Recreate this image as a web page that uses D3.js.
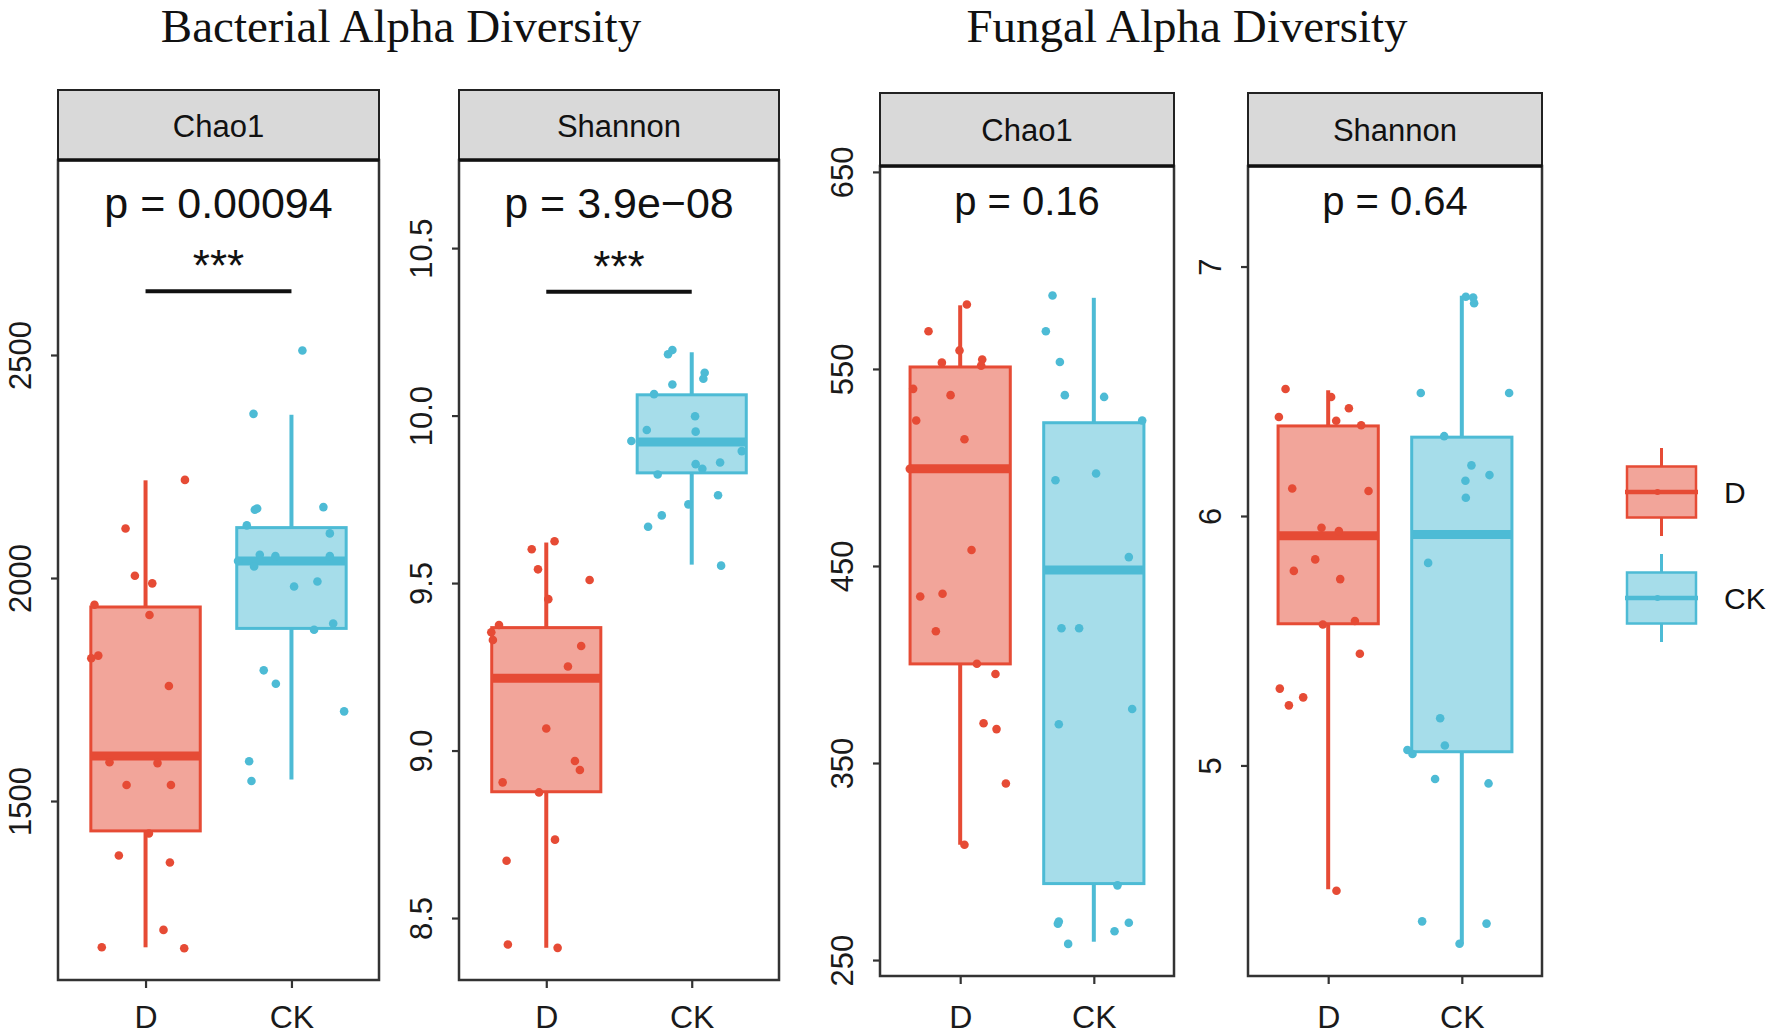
<!DOCTYPE html>
<html><head><meta charset="utf-8">
<script src="https://cdn.jsdelivr.net/npm/d3@7"></script>
<style>body{margin:0;background:#fff}</style>
</head><body>
<svg id="c" width="1772" height="1036"></svg>
<script>
// ---------------- DATA ----------------
const groups = ["D", "CK"];
const titles = ["Bacterial Alpha Diversity", "Fungal Alpha Diversity"];
const metrics = ["Chao1", "Shannon", "Chao1", "Shannon"];
const pLabels = ["p = 0.00094", "p = 3.9e\u221208", "p = 0.16", "p = 0.64"];
const signifLabels = ["***", "***", "", ""];
const signifY = [2643, 10.37, null, null];

// Bacterial Chao1
const bcD   = [2220, 2111, 2005, 1988, 1940, 1917, 1820, 1826, 1758, 1587, 1585, 1536, 1536, 1427, 1378, 1362, 1211, 1172, 1170];
const bcDj  = [0.27, -0.137, -0.073, 0.046, -0.35, 0.027, -0.372, -0.324, 0.16, -0.247, 0.082, -0.13, 0.174, 0.023, -0.183, 0.167, 0.123, -0.30, 0.265];
const bcCK  = [2510, 2368, 2153, 2156, 2159, 2118, 2100, 2038, 2052, 2049, 2049, 2026, 1981, 1992, 1898, 1884, 1793, 1763, 1701, 1589, 1545];
const bcCKj = [0.075, -0.26, -0.251, -0.235, 0.219, -0.306, 0.263, -0.366, -0.217, -0.11, 0.263, -0.256, 0.018, 0.178, 0.286, 0.155, -0.19, -0.107, 0.361, -0.29, -0.274];
const bcBoxD  = [1172, 1433, 1601, 1935, 2219];   // lower whisker, Q1, median, Q3, upper whisker
const bcBoxCK = [1548, 1887, 2038, 2113, 2366];
const bcDomain = [1098.7, 2937.2];
const bcTicks = [1500, 2000, 2500];
const bcTickLabels = ["1500", "2000", "2500"];

// Bacterial Shannon
const bsD   = [9.625, 9.601, 9.541, 9.509, 9.452, 9.375, 9.353, 9.330, 9.312, 9.251, 9.066, 8.969, 8.942, 8.905, 8.875, 8.734, 8.671, 8.421, 8.411];
const bsDj  = [0.057, -0.10, -0.057, 0.298, 0.014, -0.325, -0.378, -0.367, 0.24, 0.149, 0, 0.197, 0.231, -0.30, -0.05, 0.06, -0.273, -0.264, 0.078];
const bsCK  = [10.183, 10.196, 10.128, 10.110, 10.093, 10.064, 9.998, 9.957, 9.952, 9.924, 9.894, 9.855, 9.841, 9.860, 9.824, 9.762, 9.735, 9.702, 9.668, 9.552];
const bsCKj = [-0.163, -0.133, 0.089, 0.08, -0.133, -0.259, 0.023, -0.309, 0.027, -0.415, 0.344, 0.027, 0.073, 0.195, -0.234, 0.181, -0.023, -0.206, -0.30, 0.202];
const bsBoxD  = [8.411, 8.877, 9.216, 9.367, 9.621];
const bsBoxCK = [9.555, 9.829, 9.921, 10.062, 10.189];
const bsDomain = [8.315, 10.763];
const bsTicks = [8.5, 9.0, 9.5, 10.0, 10.5];
const bsTickLabels = ["8.5", "9.0", "9.5", "10.0", "10.5"];

// Fungal Chao1
const fcD   = [582.7, 569.1, 559.4, 553.2, 554.8, 551.7, 539.9, 536.7, 523.8, 514.3, 499.3, 458.1, 434.5, 435.9, 416.9, 400.4, 395.2, 370.2, 367.2, 339.6, 308.5];
const fcDj  = [0.05, -0.237, -0.005, -0.137, 0.165, 0.157, -0.352, -0.072, -0.329, 0.032, -0.377, 0.085, -0.299, -0.132, -0.182, 0.125, 0.264, 0.175, 0.272, 0.342, 0.032];
const fcCK  = [587.3, 569.1, 553.5, 536.7, 535.8, 523.8, 493.5, 496.9, 454.5, 418.4, 418.4, 377.4, 369.7, 287.9, 269.5, 268.4, 268.9, 264.6, 258.2];
const fcCKj = [-0.309, -0.359, -0.254, -0.217, 0.077, 0.362, -0.287, 0.017, 0.262, -0.242, -0.11, 0.287, -0.262, 0.177, -0.262, -0.269, 0.262, 0.155, -0.192];
const fcBoxD  = [308.5, 400.3, 499.3, 551.0, 582.3];
const fcBoxCK = [259.3, 288.8, 447.9, 522.7, 586.1];
const fcDomain = [241.9, 653.0];
const fcTicks = [250, 350, 450, 550, 650];
const fcTickLabels = ["250", "350", "450", "550", "650"];

// Fungal Shannon
const fsD   = [6.509, 6.477, 6.432, 6.397, 6.382, 6.364, 6.110, 6.100, 5.953, 5.940, 5.826, 5.780, 5.747, 5.565, 5.579, 5.448, 5.308, 5.273, 5.241, 4.498];
const fsDj  = [-0.319, 0.022, 0.155, -0.369, 0.06, 0.247, -0.269, 0.302, -0.05, 0.08, -0.097, -0.257, 0.09, -0.04, 0.2, 0.237, -0.362, -0.187, -0.294, 0.062];
const fsCK  = [6.879, 6.876, 6.853, 6.493, 6.493, 6.320, 6.203, 6.164, 6.141, 6.073, 5.812, 5.189, 5.080, 5.062, 5.046, 4.946, 4.928, 4.375, 4.366, 4.285];
const fsCKj = [0.03, 0.085, 0.092, -0.307, 0.354, -0.132, 0.072, 0.207, 0.027, 0.03, -0.252, -0.162, -0.127, -0.407, -0.369, -0.2, 0.2, -0.297, 0.185, -0.017];
const fsBoxD  = [4.504, 5.568, 5.921, 6.361, 6.504];
const fsBoxCK = [4.285, 5.055, 5.926, 6.316, 6.883];
const fsDomain = [4.156, 7.403];
const fsTicks = [5, 6, 7];
const fsTickLabels = ["5", "6", "7"];

// ---------------- STYLE / LAYOUT ----------------
const colors = { D: "#E64B35", CK: "#4DBBD5" };
const SANS = "'Liberation Sans', Arial, Helvetica, sans-serif";
const SERIF = "'Liberation Serif', 'Times New Roman', serif";

const layout = [
  { x0: 58,   x1: 379,  stripTop: 90, stripBottom: 160, bottom: 980, pY: 218, pSize: 43 },
  { x0: 459,  x1: 779,  stripTop: 90, stripBottom: 160, bottom: 980, pY: 218, pSize: 43 },
  { x0: 880,  x1: 1174, stripTop: 93, stripBottom: 166, bottom: 976, pY: 215, pSize: 40 },
  { x0: 1248, x1: 1542, stripTop: 93, stripBottom: 166, bottom: 976, pY: 215, pSize: 40 }
];
const panelData = [
  { vals: { D: bcD, CK: bcCK }, jit: { D: bcDj, CK: bcCKj }, box: { D: bcBoxD, CK: bcBoxCK }, domain: bcDomain, ticks: bcTicks, tickLabels: bcTickLabels },
  { vals: { D: bsD, CK: bsCK }, jit: { D: bsDj, CK: bsCKj }, box: { D: bsBoxD, CK: bsBoxCK }, domain: bsDomain, ticks: bsTicks, tickLabels: bsTickLabels },
  { vals: { D: fcD, CK: fcCK }, jit: { D: fcDj, CK: fcCKj }, box: { D: fcBoxD, CK: fcBoxCK }, domain: fcDomain, ticks: fcTicks, tickLabels: fcTickLabels },
  { vals: { D: fsD, CK: fsCK }, jit: { D: fsDj, CK: fsCKj }, box: { D: fsBoxD, CK: fsBoxCK }, domain: fsDomain, ticks: fsTicks, tickLabels: fsTickLabels }
];

const svg = d3.select("#c");
svg.append("rect").attr("width", 1772).attr("height", 1036).attr("fill", "#fff");

// titles
const titleX = [401, 1187];
titles.forEach((t, i) => {
  svg.append("text").attr("x", titleX[i]).attr("y", 42)
    .attr("text-anchor", "middle").attr("font-family", SERIF).attr("font-size", 47)
    .attr("fill", "#111").text(t);
});

function drawPanel(idx) {
  const L = layout[idx], P = panelData[idx];
  const g = svg.append("g");
  const x = d3.scalePoint().domain(groups).range([L.x0, L.x1]).padding(0.6);
  const step = x.step();
  const y = d3.scaleLinear().domain(P.domain).range([L.bottom, L.stripBottom]);
  const bw = 0.75 * step;

  g.append("rect").attr("x", L.x0).attr("y", L.stripBottom)
    .attr("width", L.x1 - L.x0).attr("height", L.bottom - L.stripBottom).attr("fill", "#fff");

  groups.forEach(k => {
    const b = P.box[k], cx = x(k), col = colors[k];
    g.append("line").attr("x1", cx).attr("x2", cx).attr("y1", y(b[0])).attr("y2", y(b[1]))
      .attr("stroke", col).attr("stroke-width", 4);
    g.append("line").attr("x1", cx).attr("x2", cx).attr("y1", y(b[3])).attr("y2", y(b[4]))
      .attr("stroke", col).attr("stroke-width", 4);
    g.append("rect").attr("x", cx - bw / 2).attr("y", y(b[3]))
      .attr("width", bw).attr("height", y(b[1]) - y(b[3]))
      .attr("fill", col).attr("fill-opacity", 0.5)
      .attr("stroke", col).attr("stroke-width", 3);
    g.append("line").attr("x1", cx - bw / 2).attr("x2", cx + bw / 2)
      .attr("y1", y(b[2])).attr("y2", y(b[2]))
      .attr("stroke", col).attr("stroke-width", 9);
  });

  groups.forEach(k => {
    g.append("g").selectAll("circle").data(P.vals[k]).join("circle")
      .attr("cx", (v, i) => x(k) + P.jit[k][i] * step)
      .attr("cy", v => y(v))
      .attr("r", 4.3)
      .attr("fill", colors[k]);
  });

  // panel border
  g.append("rect").attr("x", L.x0).attr("y", L.stripBottom)
    .attr("width", L.x1 - L.x0).attr("height", L.bottom - L.stripBottom)
    .attr("fill", "none").attr("stroke", "#333").attr("stroke-width", 2.5);

  // strip
  g.append("rect").attr("x", L.x0).attr("y", L.stripTop)
    .attr("width", L.x1 - L.x0).attr("height", L.stripBottom - L.stripTop)
    .attr("fill", "#D9D9D9").attr("stroke", "#222").attr("stroke-width", 2);
  g.append("line").attr("x1", L.x0).attr("x2", L.x1).attr("y1", L.stripBottom).attr("y2", L.stripBottom)
    .attr("stroke", "#111").attr("stroke-width", 3.5);
  g.append("text").attr("x", (L.x0 + L.x1) / 2).attr("y", (L.stripTop + L.stripBottom) / 2 + 11.5)
    .attr("text-anchor", "middle").attr("font-family", SANS).attr("font-size", 31)
    .attr("fill", "#111").text(metrics[idx]);

  // y axis
  const ya = g.append("g").attr("transform", `translate(${L.x0},0)`)
    .call(d3.axisLeft(y).tickValues(P.ticks).tickFormat((d, i) => P.tickLabels[i]).tickSize(7).tickSizeOuter(0));
  ya.select(".domain").remove();
  ya.selectAll(".tick line").attr("stroke", "#333").attr("stroke-width", 2.2);
  ya.selectAll(".tick text")
    .attr("transform", "rotate(-90)").attr("x", 0).attr("y", -27).attr("dy", null)
    .attr("text-anchor", "middle").attr("font-family", SANS).attr("font-size", 31).attr("fill", "#1a1a1a");

  // x axis
  const xa = g.append("g").attr("transform", `translate(0,${L.bottom})`)
    .call(d3.axisBottom(x).tickSize(8).tickSizeOuter(0));
  xa.select(".domain").remove();
  xa.selectAll(".tick line").attr("stroke", "#333").attr("stroke-width", 2.2);
  xa.selectAll(".tick text").attr("y", 1028 - L.bottom).attr("dy", null)
    .attr("font-family", SANS).attr("font-size", 32).attr("fill", "#1a1a1a");

  // p value
  g.append("text").attr("x", (L.x0 + L.x1) / 2).attr("y", L.pY)
    .attr("text-anchor", "middle").attr("font-family", SANS).attr("font-size", L.pSize)
    .attr("fill", "#111").text(pLabels[idx]);

  if (signifLabels[idx]) {
    const sy = y(signifY[idx]);
    g.append("line").attr("x1", x("D")).attr("x2", x("CK")).attr("y1", sy).attr("y2", sy)
      .attr("stroke", "#111").attr("stroke-width", 4);
    g.append("text").attr("x", (x("D") + x("CK")) / 2).attr("y", sy - 10)
      .attr("text-anchor", "middle").attr("font-family", SANS).attr("font-size", 44)
      .attr("fill", "#111").text(signifLabels[idx]);
  }
}
[0, 1, 2, 3].forEach(drawPanel);

// legend
const legX = 1627, legW = 69, legCenters = [492, 598];
groups.forEach((k, i) => {
  const cy = legCenters[i], cx = legX + legW / 2, col = colors[k];
  const lg = svg.append("g");
  lg.append("line").attr("x1", cx).attr("x2", cx).attr("y1", cy - 44).attr("y2", cy + 44)
    .attr("stroke", col).attr("stroke-width", 3);
  lg.append("rect").attr("x", legX).attr("y", cy - 25.5).attr("width", legW).attr("height", 51)
    .attr("fill", "#fff");
  lg.append("rect").attr("x", legX).attr("y", cy - 25.5).attr("width", legW).attr("height", 51)
    .attr("fill", col).attr("fill-opacity", 0.5).attr("stroke", col).attr("stroke-width", 2.5);
  lg.append("line").attr("x1", legX - 2).attr("x2", legX + legW + 2).attr("y1", cy).attr("y2", cy)
    .attr("stroke", col).attr("stroke-width", 4.5);
  lg.append("circle").attr("cx", cx - 4).attr("cy", cy).attr("r", 3).attr("fill", col);
  lg.append("text").attr("x", 1724).attr("y", cy + 11).attr("font-family", SANS)
    .attr("font-size", 30).attr("fill", "#111").text(k);
});
</script>
</body></html>
